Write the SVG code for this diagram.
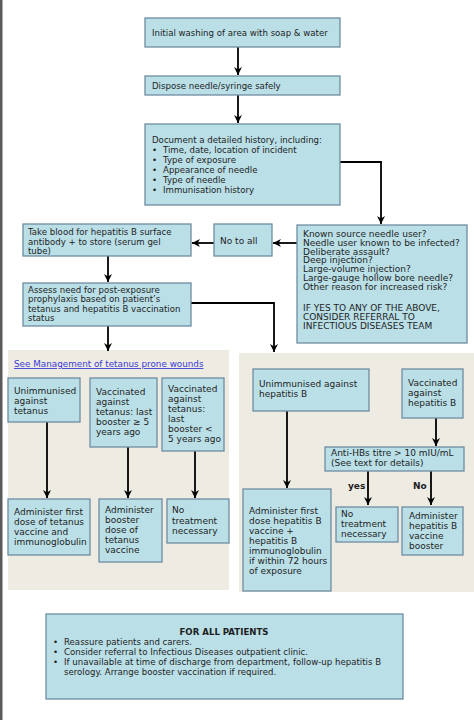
<svg xmlns="http://www.w3.org/2000/svg" width="474" height="720" viewBox="0 0 474 720">
<defs>
<style>
.bx{fill:#BADFE7;stroke:#6F8DA2;stroke-width:1.3}
.pn{fill:#EEEBE3}
text{font-family:"DejaVu Sans","Liberation Sans",sans-serif;font-size:8.6px;fill:#1E1E1E}
.t9{font-size:9px}
.b{font-weight:bold}
.lnk{fill:#3A3AD4;text-decoration:underline;font-size:8.8px}
.cn{fill:none;stroke:#000;stroke-width:1.8}
</style>
<marker id="ah" viewBox="0 0 10 10" refX="10" refY="5" markerWidth="8" markerHeight="8" markerUnits="userSpaceOnUse" orient="auto"><path d="M0,0 L10,5 L0,10 L3,5 z" fill="#000"/></marker>
</defs>
<rect x="0" y="0" width="474" height="720" fill="#FFFFFF"/>
<rect x="0" y="0" width="2.5" height="720" fill="#5A5A5A"/>
<rect class="pn" x="8" y="350" width="221" height="240"/>
<rect class="pn" x="239" y="353" width="235" height="239"/>

<g id="connectors">
<path class="cn" d="M238,47 V75" marker-end="url(#ah)"/>
<path class="cn" d="M238,95 V123" marker-end="url(#ah)"/>
<path class="cn" d="M340,162 H381 V224" marker-end="url(#ah)"/>
<path class="cn" d="M297,243 H273" marker-end="url(#ah)"/>
<path class="cn" d="M214,243 H192" marker-end="url(#ah)"/>
<path class="cn" d="M108,256 V282" marker-end="url(#ah)"/>
<path class="cn" d="M108,326 V351" marker-end="url(#ah)"/>
<path class="cn" d="M191,303 H274 V352" marker-end="url(#ah)"/>
<path class="cn" d="M47,422 V498" marker-end="url(#ah)"/>
<path class="cn" d="M128,447 V498" marker-end="url(#ah)"/>
<path class="cn" d="M195,451 V498" marker-end="url(#ah)"/>
<path class="cn" d="M287,411 V488" marker-end="url(#ah)"/>
<path class="cn" d="M436,418 V446" marker-end="url(#ah)"/>
<path class="cn" d="M368,471 V505" marker-end="url(#ah)"/>
<path class="cn" d="M431,471 V505" marker-end="url(#ah)"/>
</g>

<g id="wash">
<rect class="bx" x="145" y="18" width="195" height="29"/>
<text x="152" y="36">Initial washing of area with soap &amp; water</text>
</g>
<g id="dispose">
<rect class="bx" x="145" y="76" width="195" height="19"/>
<text x="152" y="89">Dispose needle/syringe safely</text>
</g>
<g id="history">
<rect class="bx" x="145" y="124" width="195" height="81"/>
<text x="152" y="143">Document a detailed history, including:</text>
<text x="152" y="153">•</text><text x="163" y="153">Time, date, location of incident</text>
<text x="152" y="163">•</text><text x="163" y="163">Type of exposure</text>
<text x="152" y="173">•</text><text x="163" y="173">Appearance of needle</text>
<text x="152" y="183">•</text><text x="163" y="183">Type of needle</text>
<text x="152" y="193">•</text><text x="163" y="193">Immunisation history</text>
</g>
<g id="risk">
<rect class="bx" x="297" y="225" width="170" height="118"/>
<text class="t9" x="303" y="237.3">Known source needle user?</text>
<text class="t9" x="303" y="246">Needle user known to be infected?</text>
<text class="t9" x="303" y="254.7">Deliberate assault?</text>
<text class="t9" x="303" y="263.4">Deep injection?</text>
<text class="t9" x="303" y="272.1">Large-volume injection?</text>
<text class="t9" x="303" y="280.8">Large-gauge hollow bore needle?</text>
<text class="t9" x="303" y="289.5">Other reason for increased risk?</text>
<text class="t9" x="303" y="311.3">IF YES TO ANY OF THE ABOVE,</text>
<text class="t9" x="303" y="320">CONSIDER REFERRAL TO</text>
<text class="t9" x="303" y="328.7">INFECTIOUS DISEASES TEAM</text>
</g>
<g id="noall">
<rect class="bx" x="214" y="224" width="58" height="32"/>
<text class="t9" x="220" y="244">No to all</text>
</g>
<g id="blood">
<rect class="bx" x="23" y="224" width="168" height="32"/>
<text x="28" y="235">Take blood for hepatitis B surface</text>
<text x="28" y="244.5">antibody + to store (serum gel</text>
<text x="28" y="254">tube)</text>
</g>
<g id="assess">
<rect class="bx" x="23" y="283" width="168" height="43"/>
<text x="28" y="292.5">Assess need for post-exposure</text>
<text x="28" y="302">prophylaxis based on patient’s</text>
<text x="28" y="311.5">tetanus and hepatitis B vaccination</text>
<text x="28" y="321">status</text>
</g>

<text class="lnk" x="14" y="367">See Management of tetanus prone wounds</text>

<g id="tet-unimm">
<rect class="bx" x="8" y="378" width="72" height="44"/>
<text class="t9" x="14" y="394">Unimmunised</text>
<text class="t9" x="14" y="404">against</text>
<text class="t9" x="14" y="414">tetanus</text>
</g>
<g id="tet-vacc5">
<rect class="bx" x="90" y="378" width="67" height="69"/>
<text class="t9" x="96" y="395">Vaccinated</text>
<text class="t9" x="96" y="405">against</text>
<text class="t9" x="96" y="415">tetanus: last</text>
<text class="t9" x="96" y="425">booster ≥ 5</text>
<text class="t9" x="96" y="435">years ago</text>
</g>
<g id="tet-vacclt5">
<rect class="bx" x="162" y="378" width="62" height="73"/>
<text class="t9" x="168" y="392">Vaccinated</text>
<text class="t9" x="168" y="402">against</text>
<text class="t9" x="168" y="412">tetanus:</text>
<text class="t9" x="168" y="422">last</text>
<text class="t9" x="168" y="432">booster &lt;</text>
<text class="t9" x="168" y="442">5 years ago</text>
</g>
<g id="tet-first">
<rect class="bx" x="8" y="499" width="82" height="56"/>
<text class="t9" x="14" y="515">Administer first</text>
<text class="t9" x="14" y="525">dose of tetanus</text>
<text class="t9" x="14" y="535">vaccine and</text>
<text class="t9" x="14" y="545">immunoglobulin</text>
</g>
<g id="tet-booster">
<rect class="bx" x="99" y="499" width="63" height="63"/>
<text class="t9" x="105" y="513">Administer</text>
<text class="t9" x="105" y="523">booster</text>
<text class="t9" x="105" y="533">dose of</text>
<text class="t9" x="105" y="543">tetanus</text>
<text class="t9" x="105" y="553">vaccine</text>
</g>
<g id="tet-none">
<rect class="bx" x="167" y="499" width="62" height="44"/>
<text class="t9" x="172" y="513">No</text>
<text class="t9" x="172" y="524">treatment</text>
<text class="t9" x="172" y="534">necessary</text>
</g>

<g id="hep-unimm">
<rect class="bx" x="253" y="369" width="116" height="42"/>
<text class="t9" x="259" y="387">Unimmunised against</text>
<text class="t9" x="259" y="397">hepatitis B</text>
</g>
<g id="hep-vacc">
<rect class="bx" x="402" y="369" width="61" height="49"/>
<text class="t9" x="408" y="386">Vaccinated</text>
<text class="t9" x="408" y="396">against</text>
<text class="t9" x="408" y="406">hepatitis B</text>
</g>
<g id="titre">
<rect class="bx" x="325" y="447" width="139" height="24"/>
<text class="t9" x="331" y="456">Anti-HBs titre &gt;  10 mIU/mL</text>
<text class="t9" x="331" y="466">(See text for details)</text>
</g>
<text class="t9 b" x="348" y="489">yes</text>
<text class="t9 b" x="413" y="489">No</text>
<g id="hep-first">
<rect class="bx" x="243" y="489" width="88" height="102"/>
<text class="t9" x="249" y="514">Administer first</text>
<text class="t9" x="249" y="524">dose hepatitis B</text>
<text class="t9" x="249" y="534">vaccine +</text>
<text class="t9" x="249" y="544">hepatitis B</text>
<text class="t9" x="249" y="554">immunoglobulin</text>
<text class="t9" x="249" y="564">if within 72 hours</text>
<text class="t9" x="249" y="574">of exposure</text>
</g>
<g id="hep-none">
<rect class="bx" x="336" y="507" width="62" height="35"/>
<text class="t9" x="341" y="517">No</text>
<text class="t9" x="341" y="527">treatment</text>
<text class="t9" x="341" y="537">necessary</text>
</g>
<g id="hep-booster">
<rect class="bx" x="402" y="507" width="61" height="48"/>
<text class="t9" x="409" y="519">Administer</text>
<text class="t9" x="409" y="529">hepatitis B</text>
<text class="t9" x="409" y="539">vaccine</text>
<text class="t9" x="409" y="549">booster</text>
</g>

<g id="allpatients">
<rect class="bx" x="46" y="614" width="357" height="85"/>
<text class="b" x="224" y="635" text-anchor="middle">FOR ALL PATIENTS</text>
<text x="53" y="645">•</text><text x="64" y="645">Reassure patients and carers.</text>
<text x="53" y="655">•</text><text x="64" y="655">Consider referral to Infectious Diseases outpatient clinic.</text>
<text x="53" y="665">•</text><text x="64" y="665">If unavailable at time of discharge from department, follow-up hepatitis B</text>
<text x="64" y="675">serology. Arrange booster vaccination if required.</text>
</g>
</svg>
